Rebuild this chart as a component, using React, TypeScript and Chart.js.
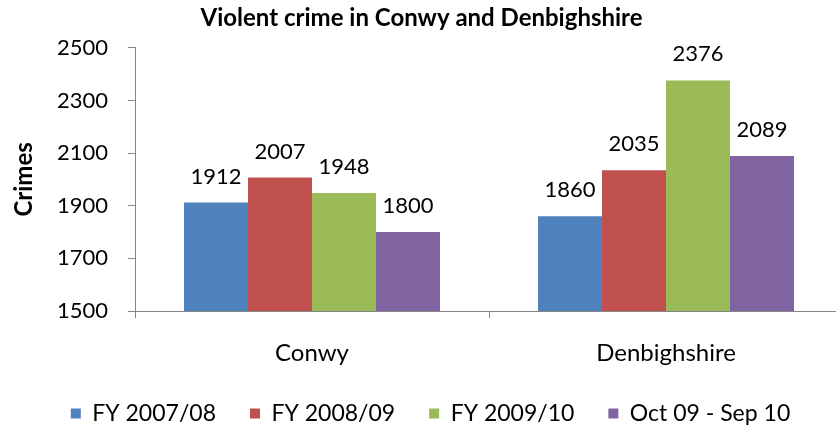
import React, { useEffect, useRef } from "react";
import { Chart, registerables } from "chart.js";

Chart.register(...registerables);

const categories = ["Conwy", "Denbighshire"];
const seriesNames = ["FY 2007/08", "FY 2008/09", "FY 2009/10", "Oct 09 - Sep 10"];
const fy0708 = [1912, 1860];
const fy0809 = [2007, 2035];
const fy0910 = [1948, 2376];
const oct09sep10 = [1800, 2089];
const seriesColors = ["#4F81BD", "#C0504D", "#9BBB59", "#8064A2"];
const yMin = 1500;
const yMax = 2500;
const yStep = 200;
const chartTitle = "Violent crime in Conwy and Denbighshire";
const yTitle = "Crimes";

const FONT = "Lato, 'Open Sans', sans-serif";

const valueLabels = {
  id: "valueLabels",
  afterDatasetsDraw(chart: any) {
    const ctx = chart.ctx;
    ctx.save();
    ctx.font = `22px ${FONT}`;
    ctx.fillStyle = "#000";
    ctx.textAlign = "center";
    ctx.textBaseline = "alphabetic";
    chart.data.datasets.forEach((ds: any, i: number) => {
      const meta = chart.getDatasetMeta(i);
      meta.data.forEach((el: any, j: number) => {
        ctx.fillText(String(ds.data[j]), el.x, el.y - 19);
      });
    });
    ctx.restore();
  },
};

const legendShift = {
  id: "legendShift",
  afterLayout(chart: any) {
    if (chart.legend) {
      chart.legend.left += 9;
      chart.legend.right += 9;
    }
  },
};

export default function App() {
  const ref = useRef<HTMLCanvasElement>(null);
  useEffect(() => {
    if (!ref.current) return;
    const seriesValues = [fy0708, fy0809, fy0910, oct09sep10];
    const chart = new Chart(ref.current, {
      type: "bar",
      data: {
        labels: categories,
        datasets: seriesNames.map((name, i) => ({
          label: name,
          data: seriesValues[i],
          backgroundColor: seriesColors[i],
          borderWidth: 0,
          categoryPercentage: 0.723,
          barPercentage: 1.0,
        })),
      },
      options: {
        responsive: false,
        animation: false,
        layout: { padding: { top: 0, right: 0, bottom: 0, left: 0 } },
        plugins: {
          title: {
            display: true,
            text: chartTitle,
            color: "#000",
            font: { family: FONT, size: 24, weight: "bold" },
            padding: { top: 4, bottom: 15 },
          },
          legend: {
            display: true,
            position: "bottom",
            labels: {
              color: "#000",
              font: { family: FONT, size: 23 },
              boxWidth: 10,
              boxHeight: 10,
              padding: 34,
            },
          },
          tooltip: { enabled: false },
        },
        scales: {
          x: {
            afterFit: (s: any) => {
              s.height = 57;
            },
            grid: {
              display: true,
              drawOnChartArea: false,
              drawTicks: true,
              tickLength: 7,
              color: "#868686",
              offset: true,
            },
            border: { display: true, color: "#868686", width: 1 },
            ticks: { color: "#000", font: { family: FONT, size: 24 }, padding: 21 },
          },
          y: {
            min: yMin,
            max: yMax,
            afterFit: (s: any) => {
              s.width = 135;
            },
            ticks: {
              stepSize: yStep,
              color: "#000",
              font: { family: FONT, size: 22 },
              padding: 20,
              callback: (v: any) => String(v),
            },
            grid: {
              display: true,
              drawOnChartArea: false,
              drawTicks: true,
              tickLength: 7,
              color: "#868686",
            },
            border: { display: true, color: "#868686", width: 1 },
            title: {
              display: true,
              text: yTitle,
              color: "#000",
              font: { family: FONT, size: 24, weight: "bold" },
              padding: { top: 10, bottom: 0 },
            },
          },
        },
      },
      plugins: [valueLabels, legendShift],
    });
    return () => chart.destroy();
  }, []);
  return (
    <div
      style={{
        position: "absolute",
        left: 0,
        top: 0,
        width: 836,
        height: 430,
        overflow: "hidden",
        background: "#fff",
      }}
    >
      <canvas ref={ref} width={843} height={435} style={{ width: 843, height: 435, display: "block" }} />
    </div>
  );
}
